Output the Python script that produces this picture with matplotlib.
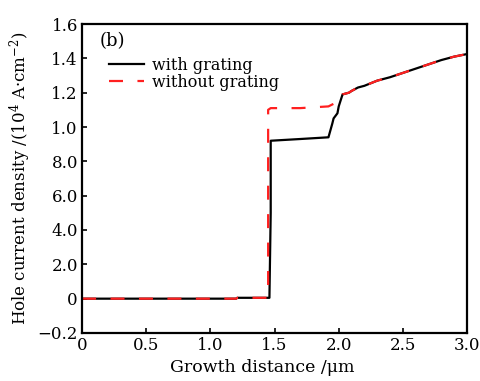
import matplotlib
matplotlib.use('Agg')
import matplotlib.pyplot as plt

plt.rcParams['font.family'] = ['DejaVu Serif']
plt.rcParams['mathtext.fontset'] = 'dejavuserif'

# growth distance (um) and hole current density (1e4 A/cm2)
x_with = [0, 1.20, 1.21, 1.46, 1.47, 1.47, 1.70, 1.92, 1.95, 1.96, 1.99, 2.00, 2.03,
          2.08, 2.10, 2.15, 2.20, 2.30, 2.40, 2.50, 2.60, 2.70, 2.80, 2.90, 3.00]
y_with = [0, 0, 0.005, 0.005, 0.5, 0.92, 0.93, 0.94, 1.02, 1.05, 1.08, 1.12, 1.19,
          1.20, 1.21, 1.23, 1.24, 1.27, 1.29, 1.315, 1.34, 1.365, 1.39, 1.41, 1.425]

x_without = [0, 1.20, 1.21, 1.45, 1.45, 1.47, 1.70, 1.92, 1.96, 2.01, 2.03,
             2.08, 2.10, 2.15, 2.20, 2.30, 2.40, 2.50, 2.60, 2.70, 2.80, 2.90, 3.00]
y_without = [0, 0, 0.005, 0.005, 1.10, 1.11, 1.11, 1.12, 1.135, 1.15, 1.19,
             1.20, 1.21, 1.23, 1.24, 1.27, 1.29, 1.315, 1.34, 1.365, 1.39, 1.41, 1.425]

y_ticks = [-0.2, 0, 0.2, 0.4, 0.6, 0.8, 1.0, 1.2, 1.4, 1.6]
y_tick_labels = ['\u22120.2', '0', '2.0', '4.0', '6.0', '8.0', '1.0', '1.2', '1.4', '1.6']
x_ticks = [0, 0.5, 1.0, 1.5, 2.0, 2.5, 3.0]
x_tick_labels = ['0', '0.5', '1.0', '1.5', '2.0', '2.5', '3.0']

fig = plt.figure(figsize=(4.8, 3.81), dpi=100)
ax = fig.add_axes([0.171, 0.126, 0.802, 0.811])

ax.plot(x_with, y_with, color='black', lw=1.6, label='with grating')
ax.plot(x_without, y_without, color='#ff2020', lw=1.6,
        linestyle=(0, (6.3, 6.5)), label='without grating')

ax.set_xlim(0, 3.0)
ax.set_ylim(-0.2, 1.6)
ax.set_xticks(x_ticks)
ax.set_xticklabels(x_tick_labels)
ax.set_yticks(y_ticks)
ax.set_yticklabels(y_tick_labels)
ax.tick_params(direction='in', length=3.5, width=1.2, labelsize=12, pad=3)

for s in ax.spines.values():
    s.set_linewidth(1.6)

ax.set_xlabel('Growth distance /\u03bcm', fontsize=12.5, labelpad=1)
ax.xaxis.set_label_coords(0.468, -0.085)
ax.set_ylabel('Hole current density /(10$^4$ A\u00b7cm$^{-2}$)', fontsize=12, labelpad=3)

ax.text(0.045, 0.975, '(b)', transform=ax.transAxes, fontsize=13, va='top')

ax.legend(loc='upper left', bbox_to_anchor=(0.04, 0.93), frameon=False,
          fontsize=11.5, handlelength=2.2, handletextpad=0.5, labelspacing=0.0,
          borderaxespad=0.3)

fig.savefig('out.png', dpi=100)
